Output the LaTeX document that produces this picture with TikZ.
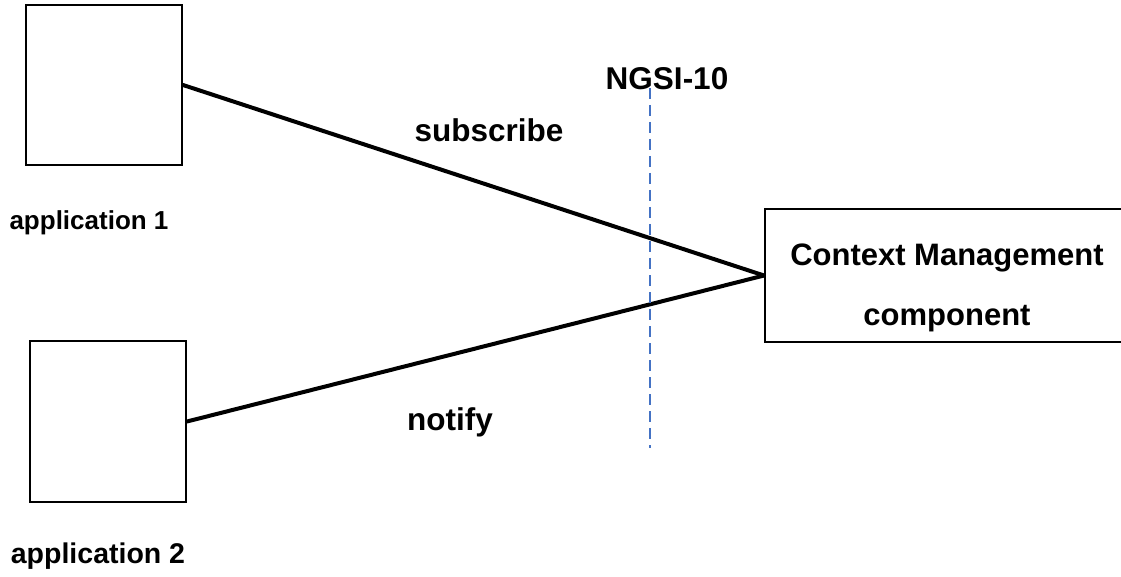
\documentclass[tikz,border=0pt]{standalone}
\usepackage{fontspec}
\setmainfont{Liberation Sans}
\usepackage{xcolor}
\usepackage{tikz}
\definecolor{cutblue}{RGB}{68,114,196}

\begin{document}
\begin{tikzpicture}[x=1pt,y=-1pt,
  box/.style={draw=black, line width=2pt, fill=white, inner sep=0pt},
  conn/.style={line width=4pt, line cap=round},
  cutline/.style={draw=cutblue, line width=2pt, dash pattern=on 11pt off 6pt},
  lbl/.style={font=\bfseries\fontsize{31.5}{36}\selectfont, inner sep=0pt, anchor=base}]
\useasboundingbox (0,0) rectangle (1121,577);
% boxes
\node[box, minimum width=156pt, minimum height=160pt] (app1) at (104,85) {};
\node[box, minimum width=156pt, minimum height=161pt] (app2) at (108,421.5) {};
\node[box, minimum width=364pt, minimum height=133pt] (ctx) at (947,275.5) {};
% connectors
\draw[conn] (app1.east) -- (ctx.west);
\draw[conn] (app2.east) -- (ctx.west);
% NGSI-10 cut
\coordinate (cuttop) at (650,88);
\coordinate (cutbot) at (650,448);
\draw[cutline] (cuttop) -- (cutbot);
% texts
\node[lbl] (ngsi) at (667,90) {NGSI-10};
\node[lbl] (sublbl) at (489,142) {subscribe};
\node[lbl] (notlbl) at (450,430) {notify};
\node[lbl, font=\bfseries\fontsize{26}{30}\selectfont] (app1lbl) at (89,230) {application 1};
\node[lbl, font=\bfseries\fontsize{28.5}{34}\selectfont] (app2lbl) at (98,563) {application 2};
\node[lbl, font=\bfseries\fontsize{31}{60}\selectfont, align=center, anchor=north] (ctxlbl) at (947,244) {Context Management\\component};
\end{tikzpicture}
\end{document}
